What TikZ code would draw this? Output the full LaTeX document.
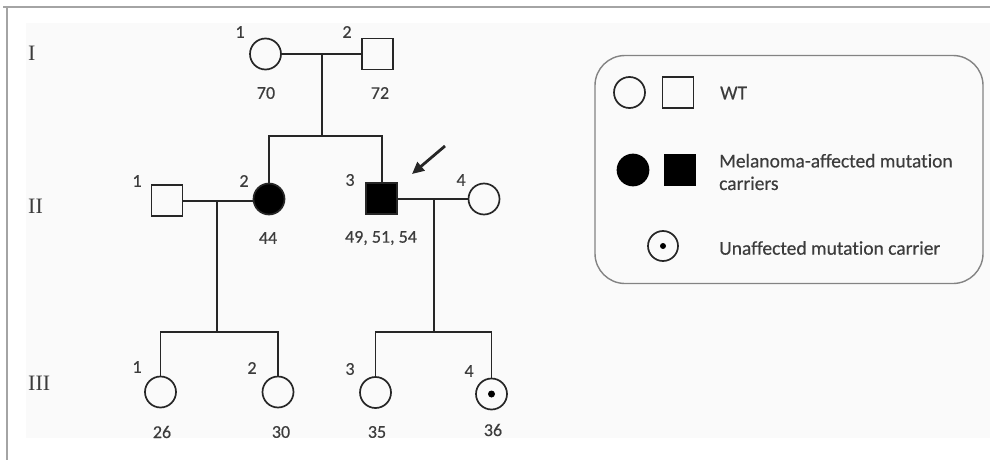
\documentclass[tikz,border=0pt]{standalone}
\usepackage{fontspec}
\newfontfamily\labfont[RawFeature=-liga, FakeBold=0.4]{Carlito}
\newfontfamily\romfont{Liberation Serif}
\usetikzlibrary{arrows.meta}
\definecolor{ink}{HTML}{262626}
\definecolor{txt}{HTML}{3C3C3C}
\definecolor{framegray}{HTML}{A4A4A4}
\tikzset{
  female/.style={circle, draw=ink, line width=1.7pt, minimum size=31pt, inner sep=0pt},
  male/.style={rectangle, draw=ink, line width=1.7pt, minimum size=31pt, inner sep=0pt},
  affected/.style={fill=black},
  carrierdot/.style={circle, fill=black, minimum size=7pt, inner sep=0pt},
  link/.style={draw=ink, line width=1.8pt},
  num/.style={text=txt, font=\labfont\fontsize{18}{20}\selectfont, inner sep=0pt},
  gen/.style={text=txt, font=\romfont\fontsize{22}{24}\selectfont, inner sep=0pt, anchor=west},
  legtext/.style={text=txt, font=\labfont\fontsize{19.5}{22.5}\selectfont, inner sep=0pt, anchor=west, align=left},
}
\begin{document}
\begin{tikzpicture}[x=1pt, y=-1pt]
\useasboundingbox (0,0) rectangle (990,460);
% panel background and frame
\fill[black!2] (26,23) rectangle (990,438);
\draw[framegray, line width=1.5pt] (3,7) -- (990,7);
\draw[framegray, line width=1.5pt] (7,7) -- (7,460);

% generation labels
\node[gen] (gI)   at (28,53)  {I};
\node[gen] (gII)  at (28,206) {II};
\node[gen] (gIII) at (28,383) {III};

% generation I
\node[female] (I1) at (265.5,54) {};
\node[male]   (I2) at (377.5,54) {};
\node[num] at (240,32) {1};
\node[num] at (347,32) {2};
\node[num] at (266,93) {70};
\node[num] at (380,93) {72};
\coordinate (mI) at (321.7,54);
\coordinate (sI) at (321.7,136);
\draw[link] (I1) -- (I2);
\draw[link] (mI) -- (sI);

% generation II
\node[male]             (II1) at (167,200.5) {};
\node[female, affected] (II2) at (269,199) {};
\node[male, affected]   (II3) at (381.7,198.5) {};
\node[female]           (II4) at (484,199) {};
\node[num] at (137,181) {1};
\node[num] at (244,181) {2};
\node[num] at (350,180) {3};
\node[num] at (461,180) {4};
\node[num] at (268,238) {44};
\node[num] at (381,238) {49, 51, 54};
\draw[link] (II2.north) |- (sI) -| (II3.north);

\coordinate (mIIa) at (216.7,201);
\coordinate (sIIa) at (216.7,332);
\coordinate (mIIb) at (434,199.3);
\coordinate (sIIb) at (434,332);
\draw[link] (II1.east |- mIIa) -- (II2.west |- mIIa);
\draw[link] (II3.east |- mIIb) -- (II4.west |- mIIb);
\draw[link] (mIIa) -- (sIIa);
\draw[link] (mIIb) -- (sIIb);

% proband arrow
\coordinate (pTail) at (445,146);
\coordinate (pHead) at (412,174);
\draw[ink, line width=2.8pt, -{Triangle[length=12pt, width=11pt]}] (pTail) -- (pHead);

% generation III
\node[female] (III1) at (160.5,392) {};
\node[female] (III2) at (278,392) {};
\node[female] (III3) at (375.5,392.5) {};
\node[female] (III4) at (491.5,394) {};
\node[carrierdot] (III4d) at (III4) {};
\node[num] at (137,367) {1};
\node[num] at (252,368) {2};
\node[num] at (350,369) {3};
\node[num] at (469,371) {4};
\node[num] at (162,432) {26};
\node[num] at (281,432) {30};
\node[num] at (377,432) {35};
\node[num] at (493,430) {36};
\draw[link] (III1.north) |- (sIIa) -| (III2.north);
\draw[link] (III3.north) |- (sIIb) -| (III4.north);

% legend
\node[draw=framegray!80!black, line width=1.4pt, rounded corners=30pt,
      minimum width=388pt, minimum height=228pt, inner sep=0pt] (legend) at (789,169.5) {};
\node[female]           (lgF)  at (629.5,92.5) {};
\node[male]             (lgM)  at (678,92.5) {};
\node[legtext]          (lgT1) at (720,93) {WT};
\node[female, affected, draw=black] (lgFA) at (633,170) {};
\node[male, affected, draw=black]   (lgMA) at (680,170) {};
\node[legtext]          (lgT2) at (719,172) {Melanoma-affected mutation\\carriers};
\node[female, minimum size=30pt] (lgC) at (663,246) {};
\node[carrierdot, minimum size=6pt] (lgCd) at (lgC) {};
\node[legtext]          (lgT3) at (719,248) {Unaffected mutation carrier};
\end{tikzpicture}
\end{document}
